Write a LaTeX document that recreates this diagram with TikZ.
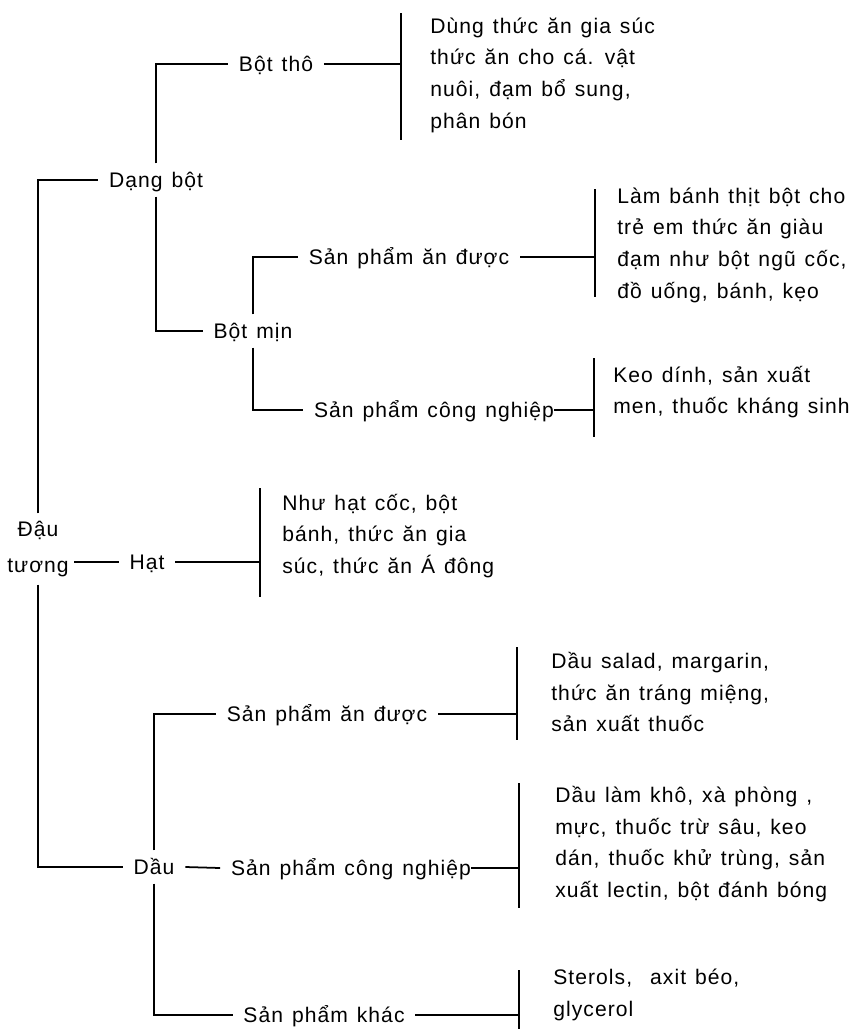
\documentclass[tikz,border=0pt]{standalone}
\usepackage{fontspec}
\setmainfont{Liberation Sans}[LetterSpace=5.0, WordSpace=1.3]

\tikzset{
  lbl/.style={inner xsep=6pt, inner ysep=5pt, text height=8.6pt,
    text depth=0pt, font=\fontsize{12}{18}\selectfont},
  root/.style={inner xsep=3pt, inner ysep=4pt, align=center,
    font=\fontsize{12}{21}\selectfont},
  use/.style={anchor=west, inner sep=0pt, align=left,
    font=\fontsize{12}{18}\selectfont},
  link/.style={line width=1pt},
}

\begin{document}
\begin{tikzpicture}[x=0.02cm, y=-0.02cm]

  \useasboundingbox (0,0) rectangle (849,1029);

  % Layout the labels
  \node[root] (dau)    at (38,549)  {Đậu\\tương} ; %
  \node[lbl]  (dang)   at (156,180) {Dạng bột} ; %
  \node[lbl]  (botho)  at (276,64)  {Bột thô} ; %
  \node[lbl]  (botmin) at (253,331) {Bột mịn} ; %
  \node[lbl]  (span1)  at (409,257) {Sản phẩm ăn được} ; %
  \node[lbl]  (spcn1)  at (434,410) {Sản phẩm công nghiệp} ; %
  \node[lbl]  (hat)    at (147,562) {Hạt} ; %
  \node[lbl]  (dau2)   at (154,867) {Dầu} ; %
  \node[lbl]  (span2)  at (327,714) {Sản phẩm ăn được} ; %
  \node[lbl]  (spcn2)  at (351,868) {Sản phẩm công nghiệp} ; %
  \node[lbl]  (spkhac) at (324,1015) {Sản phẩm khác} ; %

  % Uses
  \node[use] (u1) at (430,75)  {Dùng thức ăn gia súc\\thức ăn cho cá. vật\\nuôi, đạm bổ sung,\\phân bón} ; %
  \node[use] (u2) at (617,245) {Làm bánh thịt bột cho\\trẻ em thức ăn giàu\\đạm như bột ngũ cốc,\\đồ uống, bánh, kẹo} ; %
  \node[use] (u3) at (613,392) {Keo dính, sản xuất\\men, thuốc kháng sinh} ; %
  \node[use] (u4) at (282,536) {Như hạt cốc, bột\\bánh, thức ăn gia\\súc, thức ăn Á đông} ; %
  \node[use] (u5) at (551,692) {Dầu salad, margarin,\\thức ăn tráng miệng,\\sản xuất thuốc} ; %
  \node[use] (u6) at (555,844) {Dầu làm khô, xà phòng ,\\mực, thuốc trừ sâu, keo\\dán, thuốc khử trùng, sản\\xuất lectin, bột đánh bóng} ; %
  \node[use] (u7) at (553,995) {Sterols,~ axit béo,\\glycerol} ; %

  % Bars
  \coordinate (b1t) at (401,13) ;  \coordinate (b1b) at (401,140) ; %
  \coordinate (b2t) at (595,189) ; \coordinate (b2b) at (595,297) ; %
  \coordinate (b3t) at (594,358) ; \coordinate (b3b) at (594,437) ; %
  \coordinate (b4t) at (260,488) ; \coordinate (b4b) at (260,597) ; %
  \coordinate (b5t) at (517,647) ; \coordinate (b5b) at (517,740) ; %
  \coordinate (b6t) at (519,783) ; \coordinate (b6b) at (519,908) ; %
  \coordinate (b7t) at (519,970) ; \coordinate (b7b) at (519,1029) ; %
  \foreach \b in {1,...,7} {
    \draw[link] (b\b t) -- (b\b b) ;
  }

  % Tree connections
  \draw[link] (dau.north) |- (dang.west) ; %
  \draw[link] (dau.south) |- (dau2.west) ; %
  \draw[link] (dau.east |- hat.west) -- (hat.west) ; %
  \draw[link] (dang.north) |- (botho.west) ; %
  \draw[link] (dang.south) |- (botmin.west) ; %
  \draw[link] (botmin.north) |- (span1.west) ; %
  \draw[link] (botmin.south) |- (spcn1.west) ; %
  \draw[link] (dau2.north) |- (span2.west) ; %
  \draw[link] (dau2.east) -- (spcn2.west) ; %
  \draw[link] (dau2.south) |- (spkhac.west) ; %

  % Links to the bars
  \draw[link] (botho.east) -- (botho.east -| b1t) ; %
  \draw[link] (span1.east) -- (span1.east -| b2t) ; %
  \draw[link] ([xshift=-6pt]spcn1.east) -- (spcn1.east -| b3t) ; %
  \draw[link] (hat.east) -- (hat.east -| b4t) ; %
  \draw[link] (span2.east) -- (span2.east -| b5t) ; %
  \draw[link] ([xshift=-6pt]spcn2.east) -- (spcn2.east -| b6t) ; %
  \draw[link] (spkhac.east) -- (spkhac.east -| b7t) ; %

\end{tikzpicture}
\end{document}
